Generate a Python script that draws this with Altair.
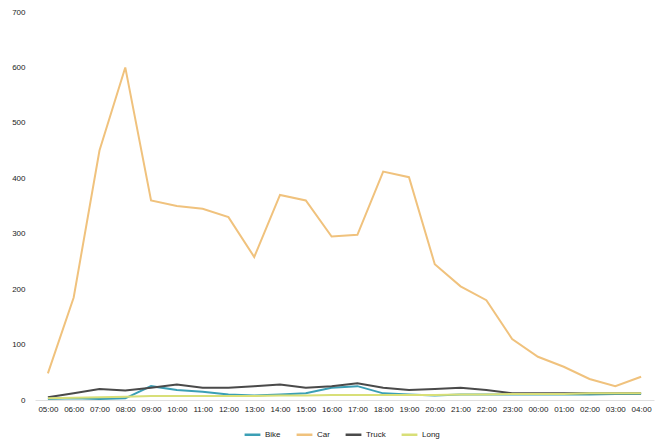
import altair as alt
import pandas as pd

hours = ["05:00", "06:00", "07:00", "08:00", "09:00", "10:00", "11:00", "12:00",
         "13:00", "14:00", "15:00", "16:00", "17:00", "18:00", "19:00", "20:00",
         "21:00", "22:00", "23:00", "00:00", "01:00", "02:00", "03:00", "04:00"]

bike = [2, 3, 2, 3, 25, 18, 15, 10, 8, 10, 12, 22, 25, 12, 10, 8, 10, 10, 10, 10, 10, 10, 11, 11]
car = [48, 185, 450, 600, 360, 350, 345, 330, 258, 370, 360, 295, 298, 412, 402, 245,
       205, 180, 110, 78, 60, 38, 25, 42]
truck = [5, 12, 20, 17, 22, 28, 22, 22, 25, 28, 22, 25, 30, 22, 18, 20, 22, 18, 12, 12, 12, 12, 12, 12]
long_ = [3, 4, 5, 6, 7, 7, 7, 7, 7, 8, 8, 9, 9, 9, 9, 9, 10, 10, 11, 11, 11, 12, 12, 12]

series = ["Bike", "Car", "Truck", "Long"]
colors = ["#3b9fb5", "#f0c27d", "#4a4a4a", "#d8df78"]

rows = []
for name, vals in zip(series, [bike, car, truck, long_]):
    for h, v in zip(hours, vals):
        rows.append({"Hour": h, "Count": v, "Series": name, "order": series.index(name)})
df = pd.DataFrame(rows)

chart = alt.Chart(df).mark_line(strokeWidth=2, interpolate="linear").encode(
    x=alt.X("Hour:N", sort=hours, title=None,
            scale=alt.Scale(type="point", padding=0.5),
            axis=alt.Axis(labelAngle=0, ticks=False, domain=True, domainColor="#e0e0e0",
                          labelFontSize=8, labelColor="#222222", labelPadding=5,
                          labelFont="Liberation Sans", labelOverlap=False)),
    y=alt.Y("Count:Q", title=None,
            scale=alt.Scale(domain=[0, 700], nice=False),
            axis=alt.Axis(values=[0, 100, 200, 300, 400, 500, 600, 700], domain=False, ticks=False,
                          grid=False, labelFontSize=8, labelColor="#222222", labelPadding=10,
                          labelFont="Liberation Sans")),
    color=alt.Color("Series:N", sort=series,
                    scale=alt.Scale(domain=series, range=colors),
                    legend=alt.Legend(title=None, orient="none", direction="horizontal",
                                      legendX=208, legendY=413, symbolType="stroke",
                                      symbolStrokeWidth=2.5, symbolSize=250,
                                      labelFontSize=8, labelColor="#222222",
                                      labelFont="Liberation Sans", columnPadding=10,
                                      labelOffset=3)),
    order="order:Q",
).properties(
    width=619, height=388,
    background="white",
    autosize=alt.AutoSizeParams(type="none"),
    padding={"left": 35, "top": 12, "right": 3, "bottom": 39},
).configure_view(stroke=None, strokeWidth=0)

chart.save("out.html", embed_options={"renderer": "svg", "actions": False})
